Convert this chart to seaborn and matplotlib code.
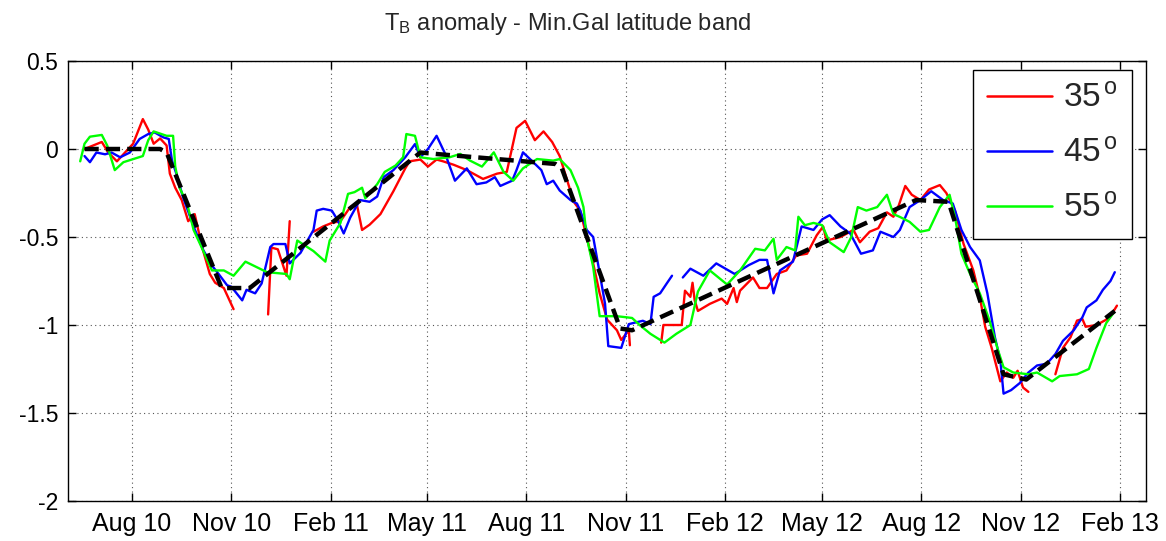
import numpy as np
import pandas as pd
import matplotlib
matplotlib.use("Agg")
import matplotlib.pyplot as plt
import seaborn as sns
from matplotlib.lines import Line2D

nan = np.nan
START = "2010-08-01"  # day 0

# ---------------- data (days since 2010-08-01, anomaly values) ----------------
red_days = [-44, -36, -28, -22, -14, -5, 1, 10, 15, 20,
            26, 32, 35, 40, 46, 52, 58, 65, 72, 77,
            85, 94, nan, 126, 129, 135, 143, 146, nan, 168,
            177, 185, 193, 202, 208, 213, 220, 230, 242, 253,
            257, 267, 274, 282, 288, 298, 310, 325, 338, 347,
            356, 364, 373, 381, 389, 396, 403, 409, 415, 421,
            427, 433, 440, 449, 453, 460, 461, nan, 490, 492,
            509, 512, 517, 519, 521, 524, 535, 546, 551, 557,
            560, 563, 575, 581, 588, 597, 606, 615, 625, 634,
            640, 643, 656, 668, 674, 683, 691, 699, 705, 710,
            716, 722, 730, 738, 748, 754, 762, 770, 779, 785,
            790, 796, 804, 810, 816, 820, 825, 830, nan, 855,
            862, 869, 875, 880, 883, 893, 902, 909, 912]
red_vals = [0.0, 0.02, 0.04, -0.02, -0.07, -0.01, 0.03, 0.17, 0.11, 0.03,
            0.06, 0.02, -0.14, -0.22, -0.29, -0.41, -0.37, -0.56, -0.71, -0.76,
            -0.79, -0.91, nan, -0.94, -0.56, -0.57, -0.72, -0.41, nan, -0.47,
            -0.44, -0.42, -0.41, -0.33, -0.31, -0.46, -0.43, -0.37, -0.24, -0.11,
            -0.07, -0.06, -0.10, -0.06, -0.07, -0.09, -0.12, -0.17, -0.14, -0.13,
            0.12, 0.16, 0.05, 0.10, 0.04, -0.04, -0.18, -0.30, -0.35, -0.50,
            -0.65, -0.82, -0.97, -1.03, -1.085, -1.03, -1.115, nan, -1.10, -1.0,
            -1.0, -0.805, -0.84, -0.76, -0.86, -0.92, -0.88, -0.85, -0.88, -0.79,
            -0.87, -0.805, -0.73, -0.79, -0.79, -0.71, -0.69, -0.605, -0.595, -0.49,
            -0.44, -0.52, -0.50, -0.46, -0.53, -0.47, -0.45, -0.36, -0.385, -0.32,
            -0.21, -0.26, -0.29, -0.23, -0.205, -0.25, -0.35, -0.54, -0.69, -0.84,
            -1.01, -1.13, -1.32, -1.27, -1.30, -1.26, -1.355, -1.38, nan, -1.28,
            -1.13, -1.07, -0.975, -0.966, -1.01, -1.0, -0.97, -0.92, -0.89]

blue_days = [-44, -39, -33, -25, -19, -11, -2, 7, 15, 21,
             29, 34, 37, 41, 47, 57, 66, 75, 81, 88,
             92, 102, 106, 114, 120, 128, 131, 142, 146, 156,
             168, 171, 177, 185, 190, 196, 202, 211, 220, 227,
             233, 242, 253, 262, 267, 274, 282, 290, 299, 310,
             319, 328, 336, 341, 352, 356, 362, 370, 379, 384,
             390, 396, 406, 412, 415, 421, 427, 432, 438, 441,
             453, 460, 466, 473, 480, 483, 489, 495, 500, nan,
             510, 517, 529, 541, 558, 571, 581, 588, 594, 600,
             612, 620, 631, 639, 646, 656, 665, 675, 686, 693,
             705, 711, 720, 730, 740, 751, 760, 768, 776, 785,
             792, 799, 804, 807, 814, 822, 830, 838, 847, 855,
             862, 872, 880, 884, 893, 899, 906, 910]
blue_vals = [-0.04, -0.075, -0.02, -0.03, -0.02, -0.047, -0.02, 0.057, 0.085, 0.094,
             0.066, 0.057, -0.066, -0.14, -0.27, -0.44, -0.575, -0.67, -0.717, -0.774,
             -0.783, -0.86, -0.80, -0.82, -0.764, -0.557, -0.54, -0.54, -0.65, -0.59,
             -0.46, -0.35, -0.34, -0.35, -0.40, -0.48, -0.39, -0.29, -0.30, -0.27,
             -0.16, -0.12, -0.047, 0.028, -0.047, 0.0, 0.075, -0.028, -0.18, -0.11,
             -0.20, -0.19, -0.16, -0.21, -0.18, -0.12, -0.019, -0.066, -0.12, -0.20,
             -0.18, -0.236, -0.29, -0.31, -0.35, -0.46, -0.50, -0.67, -0.88, -1.12,
             -1.13, -0.995, -0.986, -0.976, -0.995, -0.84, -0.82, -0.765, -0.72, nan,
             -0.73, -0.68, -0.72, -0.65, -0.71, -0.66, -0.63, -0.63, -0.82, -0.69,
             -0.64, -0.44, -0.46, -0.40, -0.376, -0.44, -0.48, -0.595, -0.576, -0.47,
             -0.50, -0.46, -0.33, -0.29, -0.24, -0.29, -0.31, -0.46, -0.557, -0.633,
             -0.82, -1.07, -1.20, -1.39, -1.37, -1.33, -1.27, -1.23, -1.22, -1.165,
             -1.09, -1.03, -0.956, -0.90, -0.86, -0.80, -0.75, -0.70]

green_days = [-48, -44, -39, -28, -23, -16, -8, 10, 15, 20,
              32, 38, 40, 44, 51, 57, 66, 74, 85, 94,
              105, 115, 125, 143, 146, 153, 168, 179, 183, 193,
              200, 206, 213, 216, 227, 234, 244, 251, 254, 262,
              267, 279, 294, 304, 313, 324, 335, 344, 353, 362,
              375, 390, 396, 406, 413, 418, 421, 427, 433, 449,
              463, 470, 480, 493, 504, 517, 524, 535, 551, 563,
              577, 586, 594, 597, 606, 614, 617, 623, 631, 639,
              646, 659, 666, 672, 680, 690, 699, 705, 711, 720,
              730, 738, 748, 757, 762, 768, 776, 785, 794, 802,
              807, 816, 830, 838, 852, 859, 875, 886, 893, 902,
              909]
green_vals = [-0.07, 0.03, 0.07, 0.08, 0.02, -0.12, -0.075, -0.04, 0.05, 0.10,
              0.075, 0.075, -0.10, -0.22, -0.31, -0.46, -0.58, -0.69, -0.69, -0.72,
              -0.64, -0.67, -0.70, -0.71, -0.74, -0.52, -0.58, -0.64, -0.52, -0.42,
              -0.255, -0.245, -0.22, -0.28, -0.20, -0.13, -0.094, -0.047, 0.085, 0.075,
              -0.047, -0.057, -0.047, -0.028, -0.066, -0.10, -0.019, -0.13, -0.18, -0.11,
              -0.057, -0.066, -0.057, -0.12, -0.22, -0.33, -0.50, -0.67, -0.95, -0.95,
              -0.96, -1.0, -1.05, -1.10, -1.05, -1.0, -0.81, -0.69, -0.77, -0.69,
              -0.567, -0.576, -0.51, -0.63, -0.557, -0.576, -0.385, -0.433, -0.42, -0.433,
              -0.53, -0.586, -0.50, -0.33, -0.35, -0.33, -0.26, -0.37, -0.386, -0.414,
              -0.47, -0.46, -0.33, -0.26, -0.386, -0.595, -0.71, -0.82, -0.975, -1.146,
              -1.24, -1.27, -1.28, -1.27, -1.32, -1.29, -1.28, -1.25, -1.13, -0.99,
              -0.93]

trend_days = [-44, 26, 32, 83, 109, 267, 285, 392, 398, 452, 463, 726, 756, 807, 828, 910]
trend_vals = [0.0, 0.0, -0.02, -0.79, -0.79, -0.02, -0.03, -0.085, -0.11, -1.02,
              -1.03, -0.29, -0.30, -1.28, -1.31, -0.92]

series_names = ["35", "45", "55"]
series_colors = ["#ff0000", "#0000ff", "#00ff00"]

tick_dates = ["2010-08-01", "2010-11-01", "2011-02-01", "2011-05-01", "2011-08-01",
              "2011-11-01", "2012-02-01", "2012-05-01", "2012-08-01", "2012-11-01",
              "2013-02-01"]
tick_labels = ["Aug 10", "Nov 10", "Feb 11", "May 11", "Aug 11", "Nov 11",
               "Feb 12", "May 12", "Aug 12", "Nov 12", "Feb 13"]
y_ticks = [-2, -1.5, -1, -0.5, 0, 0.5]
y_labels = ["-2", "-1.5", "-1", "-0.5", "0", "0.5"]
title_text = r"T$_{\mathrm{B}}$ anomaly - Min.Gal latitude band"


def to_frame(name, days, vals):
    d = np.asarray(days, dtype=float)
    v = np.asarray(vals, dtype=float)
    seg = np.cumsum(np.isnan(v))
    df = pd.DataFrame({"day": d, "val": v, "seg": seg}).dropna()
    df["date"] = pd.Timestamp(START) + pd.to_timedelta(df["day"], unit="D")
    df["series"] = name
    df["unit"] = name + "_" + df["seg"].astype(str)
    return df


df = pd.concat([to_frame(series_names[0], red_days, red_vals),
                to_frame(series_names[1], blue_days, blue_vals),
                to_frame(series_names[2], green_days, green_vals)],
               ignore_index=True)
trend = to_frame("trend", trend_days, trend_vals)

# ---------------- style ----------------
sns.set_style("ticks")
plt.rcParams["font.family"] = ["Liberation Sans", "DejaVu Sans"]
plt.rcParams["mathtext.fontset"] = "custom"
plt.rcParams["mathtext.rm"] = "Liberation Sans"
plt.rcParams["mathtext.it"] = "Liberation Sans:italic"

fig = plt.figure(figsize=(11.66, 5.41), dpi=100)
ax = fig.add_axes([68 / 1166, 40 / 541, 1078 / 1166, 440 / 541])

palette = dict(zip(series_names, series_colors))
sns.lineplot(data=df, x="date", y="val", hue="series", units="unit",
             estimator=None, sort=False, palette=palette, linewidth=1.7,
             legend=False, ax=ax)
n_before = len(ax.lines)
sns.lineplot(data=trend, x="date", y="val", color="black", linewidth=3.2,
             estimator=None, sort=False, legend=False, ax=ax)
for ln in ax.lines[n_before:]:
    ln.set_linestyle((0, (3.2, 1.6)))
    ln.set_zorder(5)

ax.set_xlim(pd.Timestamp(START) + pd.Timedelta(days=-59.3),
            pd.Timestamp(START) + pd.Timedelta(days=938.9))
ax.set_ylim(-2, 0.5)
ax.set_xticks(pd.to_datetime(tick_dates))
ax.set_xticklabels(tick_labels)
ax.set_yticks(y_ticks)
ax.set_yticklabels(y_labels)
ax.set_xlabel("")
ax.set_ylabel("")

ax.grid(True, linestyle=(0, (1, 3)), color="#555555", linewidth=0.8)
ax.tick_params(axis="both", which="major", direction="in", length=6,
               width=1, top=True, right=True, colors="black")
ax.tick_params(axis="x", pad=8, labelsize=18)
ax.tick_params(axis="y", pad=7, labelsize=16.5)
for sp in ax.spines.values():
    sp.set_visible(True)
    sp.set_color("black")
    sp.set_linewidth(1.0)

fig.text(568 / 1166, 1 - 30 / 541, title_text, fontsize=17, ha="center",
         va="baseline")

handles = [Line2D([0], [0], color=c, linewidth=1.8) for c in series_colors]
labels = [n + r"$^{\,\mathrm{o}}$" for n in series_names]
leg = ax.legend(handles, labels, loc="upper right", bbox_to_anchor=(0.987, 0.98),
                borderaxespad=0, fontsize=24, frameon=True, fancybox=False,
                edgecolor="black", framealpha=1, handlelength=1.95,
                handletextpad=0.35, labelspacing=0.72, borderpad=0.42)
leg.get_frame().set_linewidth(1.0)

fig.savefig("out.png", dpi=100)
